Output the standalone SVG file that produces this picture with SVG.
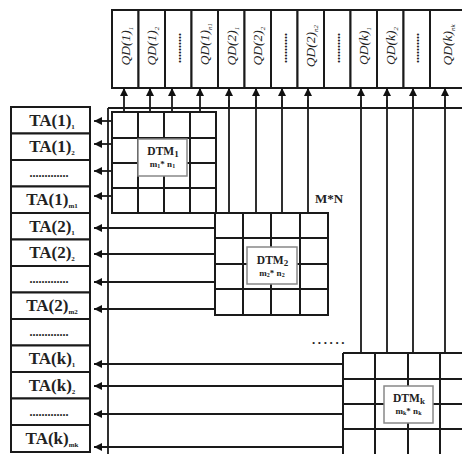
<svg xmlns="http://www.w3.org/2000/svg" width="462" height="454" viewBox="0 0 462 454">
<defs>
<marker id="ah" markerUnits="userSpaceOnUse" markerWidth="9" markerHeight="8" refX="8" refY="4" orient="auto">
<path d="M0,0 L8,4 L0,8 z" fill="#111"/>
</marker>
<style>
.bx{fill:#fff;stroke:#1a1a1a;stroke-width:2}
.gr{fill:none;stroke:#1a1a1a;stroke-width:2}
.ln{fill:none;stroke:#1a1a1a;stroke-width:1.8}
.ar{fill:none;stroke:#1a1a1a;stroke-width:1.8;marker-end:url(#ah)}
.lb{fill:#fff;stroke:#888;stroke-width:1.5}
.qd{font-family:"Liberation Serif",serif;font-style:italic;font-size:13.5px;fill:#222;text-anchor:middle}
.ta{font-family:"Liberation Serif",serif;font-weight:bold;font-size:17px;fill:#222;text-anchor:middle}
.dt{font-family:"Liberation Serif",serif;font-weight:bold;font-size:11.5px;fill:#222;text-anchor:middle}
.dm{font-family:"Liberation Serif",serif;font-weight:bold;font-size:9px;fill:#222;text-anchor:middle}
.dots{font-family:"Liberation Serif",serif;font-weight:bold;font-size:12px;fill:#222;text-anchor:middle}
.mn{font-family:"Liberation Serif",serif;font-weight:bold;font-size:13px;fill:#222}
</style>
</defs>
<rect width="462" height="454" fill="#fff"/>

<!-- QD output boxes -->
<g id="qd1_1"><rect class="bx" x="112" y="10" width="26.5" height="78"/><text class="qd" transform="translate(129.5,46) rotate(-90)">QD(1)<tspan font-size="7" dy="3">1</tspan></text></g>
<g id="qd1_2"><rect class="bx" x="138.5" y="10" width="26.5" height="78"/><text class="qd" transform="translate(156,46) rotate(-90)">QD(1)<tspan font-size="7" dy="3">2</tspan></text></g>
<g id="qd1_dots"><rect class="bx" x="165" y="10" width="26.5" height="78"/><text class="dots" transform="translate(180.5,48) rotate(-90)">..........</text></g>
<g id="qd1_n1"><rect class="bx" x="191.5" y="10" width="26.5" height="78"/><text class="qd" transform="translate(209,44) rotate(-90)">QD(1)<tspan font-size="7" dy="3">n1</tspan></text></g>
<g id="qd2_1"><rect class="bx" x="218" y="10" width="26.5" height="78"/><text class="qd" transform="translate(235.5,46) rotate(-90)">QD(2)<tspan font-size="7" dy="3">1</tspan></text></g>
<g id="qd2_2"><rect class="bx" x="244.5" y="10" width="26.5" height="78"/><text class="qd" transform="translate(262,46) rotate(-90)">QD(2)<tspan font-size="7" dy="3">2</tspan></text></g>
<g id="qd2_dots"><rect class="bx" x="271" y="10" width="26.5" height="78"/><text class="dots" transform="translate(286.5,48) rotate(-90)">..........</text></g>
<g id="qd2_n2"><rect class="bx" x="297.5" y="10" width="26.5" height="78"/><text class="qd" transform="translate(315,46) rotate(-90)">QD(2)<tspan font-size="7" dy="3">n2</tspan></text></g>
<g id="qd_dots"><rect class="bx" x="324" y="10" width="26.5" height="78"/><text class="dots" transform="translate(339.5,48) rotate(-90)">..........</text></g>
<g id="qdk_1"><rect class="bx" x="350.5" y="10" width="26.5" height="78"/><text class="qd" transform="translate(368,46) rotate(-90)">QD(k)<tspan font-size="7" dy="3">1</tspan></text></g>
<g id="qdk_2"><rect class="bx" x="377" y="10" width="26.5" height="78"/><text class="qd" transform="translate(394.5,46) rotate(-90)">QD(k)<tspan font-size="7" dy="3">2</tspan></text></g>
<g id="qdk_dots"><rect class="bx" x="403.5" y="10" width="26.5" height="78"/><text class="dots" transform="translate(419,48) rotate(-90)">..........</text></g>
<g id="qdk_nk"><rect class="bx" x="430" y="10" width="40" height="78"/><text class="qd" transform="translate(452,45) rotate(-90)">QD(k)<tspan font-size="7" dy="3">nk</tspan></text></g>

<!-- TA input boxes -->
<g id="ta1_1"><rect class="bx" x="11" y="107" width="79" height="26.5"/><text class="ta" x="52" y="125.5">TA(1)<tspan font-size="7" dy="3">1</tspan></text></g>
<g id="ta1_2"><rect class="bx" x="11" y="133.5" width="79" height="26.5"/><text class="ta" x="52" y="152">TA(1)<tspan font-size="7" dy="3">2</tspan></text></g>
<g id="ta1_dots"><rect class="bx" x="11" y="160" width="79" height="26.5"/><text class="dots" x="49" y="177">.............</text></g>
<g id="ta1_m1"><rect class="bx" x="11" y="186.5" width="79" height="26.5"/><text class="ta" x="52" y="205">TA(1)<tspan font-size="7" dy="3">m1</tspan></text></g>
<g id="ta2_1"><rect class="bx" x="11" y="213" width="79" height="26.5"/><text class="ta" x="52" y="231.5">TA(2)<tspan font-size="7" dy="3">1</tspan></text></g>
<g id="ta2_2"><rect class="bx" x="11" y="239.5" width="79" height="26.5"/><text class="ta" x="52" y="258">TA(2)<tspan font-size="7" dy="3">2</tspan></text></g>
<g id="ta2_dots"><rect class="bx" x="11" y="266" width="79" height="26.5"/><text class="dots" x="49" y="283">.............</text></g>
<g id="ta2_m2"><rect class="bx" x="11" y="292.5" width="79" height="26.5"/><text class="ta" x="52" y="311">TA(2)<tspan font-size="7" dy="3">m2</tspan></text></g>
<g id="ta_dots"><rect class="bx" x="11" y="319" width="79" height="26.5"/><text class="dots" x="49" y="336">.............</text></g>
<g id="tak_1"><rect class="bx" x="11" y="345.5" width="79" height="26.5"/><text class="ta" x="52" y="364">TA(k)<tspan font-size="7" dy="3">1</tspan></text></g>
<g id="tak_2"><rect class="bx" x="11" y="372" width="79" height="26.5"/><text class="ta" x="52" y="390.5">TA(k)<tspan font-size="7" dy="3">2</tspan></text></g>
<g id="tak_dots"><rect class="bx" x="11" y="398.5" width="79" height="26.5"/><text class="dots" x="49" y="415.5">.............</text></g>
<g id="tak_mk"><rect class="bx" x="11" y="425" width="79" height="27"/><text class="ta" x="52" y="444">TA(k)<tspan font-size="7" dy="3">mk</tspan></text></g>

<!-- Connectors -->
<g id="connectors">
<path class="ln" d="M108,108 H470 M108,108 V460"/>
<path class="ln" d="M229,213 V100 M256,213 V100 M282,213 V100 M308,213 V100 M361,353 V100 M387,353 V100 M413,353 V100 M445,353 V100"/>
<line class="ar" x1="124" y1="112" x2="124" y2="88"/>
<line class="ar" x1="150" y1="112" x2="150" y2="88"/>
<line class="ar" x1="172" y1="112" x2="172" y2="88"/>
<line class="ar" x1="200" y1="112" x2="200" y2="88"/>
<line class="ar" x1="229" y1="108" x2="229" y2="88"/>
<line class="ar" x1="256" y1="108" x2="256" y2="88"/>
<line class="ar" x1="282" y1="108" x2="282" y2="88"/>
<line class="ar" x1="308" y1="108" x2="308" y2="88"/>
<line class="ar" x1="361" y1="108" x2="361" y2="88"/>
<line class="ar" x1="387" y1="108" x2="387" y2="88"/>
<line class="ar" x1="413" y1="108" x2="413" y2="88"/>
<line class="ar" x1="445" y1="108" x2="445" y2="88"/>
<line class="ar" x1="112" y1="121" x2="94" y2="121"/>
<line class="ar" x1="112" y1="144" x2="94" y2="144"/>
<line class="ar" x1="112" y1="171" x2="94" y2="171"/>
<line class="ar" x1="112" y1="196" x2="94" y2="196"/>
<line class="ar" x1="215" y1="228" x2="94" y2="228"/>
<line class="ar" x1="215" y1="254" x2="94" y2="254"/>
<line class="ar" x1="215" y1="282" x2="94" y2="282"/>
<line class="ar" x1="215" y1="309" x2="94" y2="309"/>
<line class="ar" x1="343" y1="364" x2="94" y2="364"/>
<line class="ar" x1="343" y1="386" x2="94" y2="386"/>
<line class="ar" x1="343" y1="414" x2="94" y2="414"/>
<line class="ar" x1="343" y1="447" x2="94" y2="447"/>
</g>

<!-- DTM blocks -->
<g id="dtm1">
<path class="gr" d="M112,112 H216 V213 H112 Z M138,112 V213 M164,112 V213 M190,112 V213 M112,138 H216 M112,163 H216 M112,188 H216"/>
<rect class="lb" x="138" y="139" width="49" height="37"/>
<text class="dt" x="163" y="155">DTM<tspan font-size="9" dy="2">1</tspan></text>
<text class="dm" x="162.5" y="166.5">m<tspan font-size="6" dy="1.5">1</tspan><tspan dy="-1.5">* n</tspan><tspan font-size="6" dy="1.5">1</tspan></text>
</g>
<g id="dtm2">
<path class="gr" d="M215,213 H328 V315 H215 Z M243,213 V315 M271,213 V315 M300,213 V315 M215,238 H328 M215,264 H328 M215,289 H328"/>
<rect class="lb" x="247" y="247" width="50" height="37"/>
<text class="dt" x="272.5" y="264">DTM<tspan font-size="9" dy="2">2</tspan></text>
<text class="dm" x="272" y="275.5">m<tspan font-size="6" dy="1.5">2</tspan><tspan dy="-1.5">* n</tspan><tspan font-size="6" dy="1.5">2</tspan></text>
<text class="mn" x="315" y="203">M*N</text>
</g>
<g id="dtmk">
<path class="gr" d="M343,353 H472 M343,353 V460 M375,353 V460 M408,353 V460 M440,353 V460 M343,379 H472 M343,404 H472 M343,429 H472"/>
<rect class="lb" x="384" y="386" width="49" height="37"/>
<text class="dt" x="409" y="402">DTM<tspan font-size="9" dy="2">k</tspan></text>
<text class="dm" x="408.5" y="413.5">m<tspan font-size="6" dy="1.5">k</tspan><tspan dy="-1.5">* n</tspan><tspan font-size="6" dy="1.5">k</tspan></text>
<text class="mn" x="312" y="344" letter-spacing="2.6">......</text>
</g>
</svg>
